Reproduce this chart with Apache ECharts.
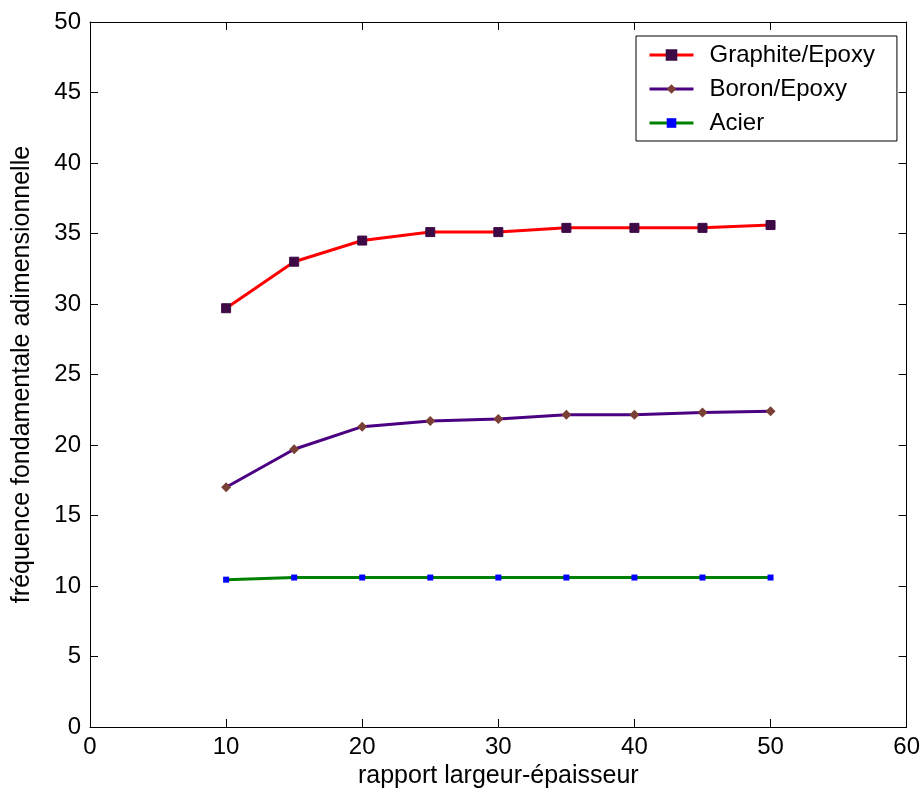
<!DOCTYPE html>
<html>
<head>
<meta charset="utf-8">
<script src="https://cdn.jsdelivr.net/npm/echarts@6/dist/echarts.min.js"></script>
<style>
  html, body { margin: 0; padding: 0; background: #fff; }
  #chart { width: 923px; height: 801px; }
</style>
</head>
<body>
<div id="chart"></div>
<script>
// Width-to-thickness ratios
const ratios = [10, 15, 20, 25, 30, 35, 40, 45, 50];
// Non-dimensional fundamental frequency per material
const graphiteEpoxy = [29.7, 33.0, 34.5, 35.1, 35.1, 35.4, 35.4, 35.4, 35.6];
const boronEpoxy = [17.0, 19.7, 21.3, 21.7, 21.85, 22.15, 22.15, 22.3, 22.4];
const acier = [10.45, 10.6, 10.6, 10.6, 10.6, 10.6, 10.6, 10.6, 10.6];

const seriesNames = ['Graphite/Epoxy', 'Boron/Epoxy', 'Acier'];

const pairs = (ys) => ratios.map((x, i) => [x, ys[i]]);

const font = 'Liberation Sans, Arial, sans-serif';
const axisLineStyle = { color: '#000', width: 1 };

const chart = echarts.init(document.getElementById('chart'), null, { renderer: 'canvas' });

chart.setOption({
  backgroundColor: '#fff',
  animation: false,
  grid: { left: 90, right: 15, top: 22, bottom: 74, containLabel: false },
  legend: {
    orient: 'vertical',
    left: 636,
    top: 36,
    data: seriesNames,
    backgroundColor: '#fff',
    borderColor: '#000',
    borderWidth: 1,
    padding: [7, 22, 6, 12],
    itemGap: 10,
    itemWidth: 44,
    itemHeight: 12,
    lineStyle: { width: 3 },
    textStyle: { fontFamily: font, fontSize: 24, color: '#000', padding: [0, 0, 0, 11] }
  },
  xAxis: [
    {
      type: 'value', min: 0, max: 60, interval: 10,
      name: 'rapport largeur-épaisseur',
      nameLocation: 'middle', nameGap: 36,
      nameTextStyle: { fontFamily: font, fontSize: 25, color: '#000' },
      axisLine: { show: true, lineStyle: axisLineStyle },
      axisTick: { show: true, inside: true, length: 8, lineStyle: axisLineStyle },
      axisLabel: { fontFamily: font, fontSize: 24, color: '#000', margin: 8 },
      splitLine: { show: false }
    },
    {
      type: 'value', min: 0, max: 60, interval: 10, position: 'top',
      axisLine: { show: true, onZero: false, lineStyle: axisLineStyle },
      axisTick: { show: true, inside: true, length: 8, lineStyle: axisLineStyle },
      axisLabel: { show: false },
      splitLine: { show: false }
    }
  ],
  yAxis: [
    {
      type: 'value', min: 0, max: 50, interval: 5,
      name: 'fréquence fondamentale adimensionnelle',
      nameLocation: 'middle', nameGap: 55,
      nameTextStyle: { fontFamily: font, fontSize: 25, color: '#000' },
      axisLine: { show: true, lineStyle: axisLineStyle },
      axisTick: { show: true, inside: true, length: 8, lineStyle: axisLineStyle },
      axisLabel: { fontFamily: font, fontSize: 24, color: '#000', margin: 9 },
      splitLine: { show: false }
    },
    {
      type: 'value', min: 0, max: 50, interval: 5, position: 'right',
      axisLine: { show: true, onZero: false, lineStyle: axisLineStyle },
      axisTick: { show: true, inside: true, length: 8, lineStyle: axisLineStyle },
      axisLabel: { show: false },
      splitLine: { show: false }
    }
  ],
  series: [
    {
      name: seriesNames[0], type: 'line', data: pairs(graphiteEpoxy),
      symbol: 'rect', symbolSize: 9,
      lineStyle: { color: '#ff0000', width: 3 },
      itemStyle: { color: '#3d0a45', borderColor: '#3d0a45', borderWidth: 1 },
      z: 3
    },
    {
      name: seriesNames[1], type: 'line', data: pairs(boronEpoxy),
      symbol: 'diamond', symbolSize: 10,
      lineStyle: { color: '#4b0082', width: 3 },
      itemStyle: { color: '#7a3f35' },
      z: 3
    },
    {
      name: seriesNames[2], type: 'line', data: pairs(acier),
      symbol: 'rect', symbolSize: 6,
      lineStyle: { color: '#008000', width: 3 },
      itemStyle: { color: '#0000ff' },
      z: 3
    }
  ]
});
</script>
</body>
</html>
